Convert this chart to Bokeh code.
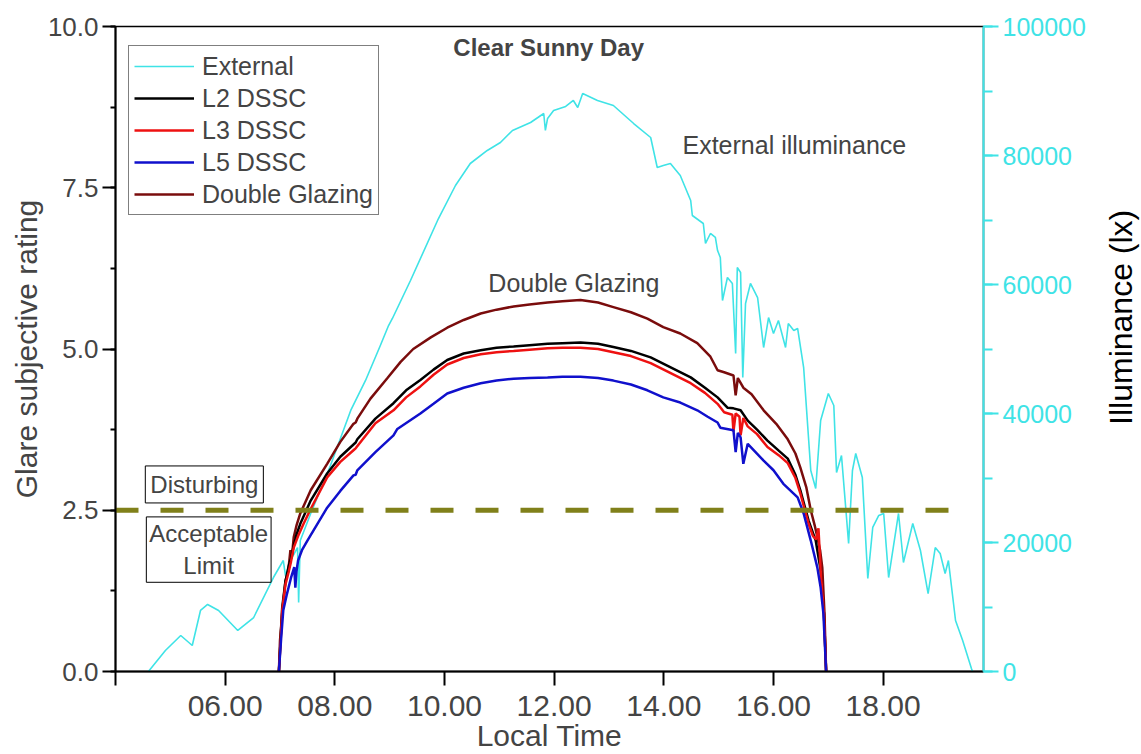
import math
from bokeh.plotting import figure
from bokeh.layouts import row
from bokeh.models import (Range1d, LinearAxis, FixedTicker, Label, Legend, LegendItem,
                          SingleIntervalTicker, PrintfTickFormatter, BasicTickFormatter)
from bokeh.embed import file_html
from bokeh.resources import INLINE

# ---------------- data ----------------
x_ticks = [4, 6, 8, 10, 12, 14, 16, 18]
x_tick_labels = ["", "06.00", "08.00", "10.00", "12.00", "14.00", "16.00", "18.00"]

ext_hours = [4.60, 4.91, 5.19, 5.40, 5.55, 5.68, 5.88, 6.23, 6.52, 6.88,
             7.06, 7.10, 7.19, 7.32, 7.34, 7.37, 7.56, 7.92, 8.29, 8.56,
             8.83, 8.98, 9.05, 9.38, 9.89, 10.20, 10.47, 10.78, 11.02, 11.24,
             11.57, 11.81, 11.84, 11.88, 11.99, 12.21, 12.35, 12.43, 12.52, 12.79,
             13.08, 13.45, 13.76, 13.88, 13.99, 14.12, 14.30, 14.49, 14.52, 14.72,
             14.76, 14.85, 14.94, 14.98, 15.03, 15.07, 15.16, 15.25, 15.31, 15.34,
             15.40, 15.44, 15.49, 15.58, 15.71, 15.82, 15.91, 16.00, 16.09, 16.22,
             16.27, 16.37, 16.44, 16.55, 16.68, 16.77, 16.86, 17.00, 17.10, 17.15,
             17.24, 17.37, 17.44, 17.50, 17.62, 17.72, 17.81, 17.92, 18.01, 18.10,
             18.28, 18.37, 18.54, 18.68, 18.82, 18.95, 19.04, 19.13, 19.19, 19.32,
             19.45, 19.61, 19.63]
ext_lux = [0, 3260, 5580, 4030, 9460, 10390, 9460, 6360, 8370, 14570,
           17210, 14880, 17210, 19220, 10700, 20310, 24500, 31940, 40470, 45120,
           50540, 53640, 54730, 60620, 70230, 75350, 78760, 80780, 82020, 83880,
           85120, 86510, 83880, 85740, 86980, 87600, 88530, 87440, 89610, 88530,
           87750, 84960, 82790, 78140, 78450, 78760, 76900, 73020, 70700, 69460,
           66360, 67910, 67290, 65270, 64190, 57520, 61090, 60160, 49300, 62640,
           61860, 45580, 57050, 60160, 57980, 50230, 54880, 52400, 54420, 50230,
           53950, 52870, 53180, 47130, 31160, 28370, 38910, 43100, 41240, 30850,
           33490, 19850, 31160, 33800, 30080, 14420, 22330, 24190, 24500, 14570,
           24500, 16900, 22950, 18760, 12090, 19220, 18290, 15190, 17210, 7910,
           4810, 470, 0]

l2_hours = [6.98, 7.01, 7.04, 7.10, 7.16, 7.20, 7.25, 7.30, 7.37, 7.56,
            7.86, 8.10, 8.38, 8.41, 8.74, 9.07, 9.30, 9.56, 9.80, 10.05,
            10.35, 10.66, 10.95, 11.26, 11.55, 11.88, 12.15, 12.48, 12.80, 13.08,
            13.40, 13.76, 14.07, 14.49, 14.75, 14.98, 15.16, 15.27, 15.40, 15.53,
            15.70, 15.89, 16.10, 16.26, 16.40, 16.49, 16.64, 16.77, 16.86, 16.92,
            16.96]
l2_glare = [0.0, 0.48, 0.99, 1.40, 1.64, 1.75, 1.95, 2.12, 2.29, 2.65,
            3.07, 3.33, 3.55, 3.60, 3.92, 4.16, 4.36, 4.52, 4.68, 4.83,
            4.93, 4.98, 5.02, 5.04, 5.06, 5.08, 5.09, 5.10, 5.08, 5.03,
            4.97, 4.87, 4.74, 4.56, 4.40, 4.25, 4.09, 4.08, 4.05, 3.89,
            3.75, 3.58, 3.42, 3.30, 3.05, 2.81, 2.34, 2.03, 1.57, 0.90,
            0.0]

l3_hours = [6.98, 7.01, 7.04, 7.10, 7.16, 7.20, 7.25, 7.33, 7.43, 7.56,
            7.86, 8.10, 8.34, 8.38, 8.74, 9.07, 9.30, 9.56, 9.80, 10.05,
            10.35, 10.66, 10.95, 11.26, 11.55, 11.88, 12.15, 12.48, 12.80, 13.08,
            13.40, 13.76, 14.07, 14.49, 14.75, 14.98, 15.10, 15.25, 15.27, 15.31,
            15.38, 15.40, 15.45, 15.53, 15.70, 15.89, 16.10, 16.26, 16.40, 16.49,
            16.64, 16.72, 16.78, 16.82, 16.86, 16.92, 16.96]
l3_glare = [0.0, 0.45, 0.95, 1.35, 1.55, 1.70, 1.92, 2.10, 2.29, 2.52,
            3.01, 3.25, 3.43, 3.46, 3.85, 4.05, 4.25, 4.42, 4.60, 4.76,
            4.86, 4.92, 4.95, 4.97, 4.99, 5.01, 5.02, 5.02, 5.00, 4.95,
            4.89, 4.78, 4.65, 4.47, 4.32, 4.15, 4.02, 3.98, 3.72, 4.00,
            3.95, 3.66, 3.93, 3.80, 3.68, 3.48, 3.35, 3.23, 3.00, 2.76,
            2.29, 2.10, 2.05, 2.22, 1.57, 0.90, 0.0]

l5_hours = [6.98, 7.02, 7.06, 7.12, 7.20, 7.26, 7.28, 7.30, 7.33, 7.40,
            7.50, 7.86, 8.10, 8.34, 8.38, 8.41, 8.74, 9.07, 9.14, 9.56,
            9.80, 10.05, 10.35, 10.66, 10.95, 11.26, 11.55, 11.88, 12.15, 12.48,
            12.80, 13.08, 13.40, 13.70, 13.99, 14.30, 14.61, 14.80, 14.98, 15.03,
            15.27, 15.31, 15.35, 15.40, 15.45, 15.53, 15.82, 16.00, 16.18, 16.44,
            16.55, 16.68, 16.80, 16.86, 16.91, 16.96]
l5_glare = [0.0, 0.50, 0.95, 1.18, 1.45, 1.62, 1.30, 1.55, 1.72, 1.88,
            2.03, 2.54, 2.80, 3.04, 3.05, 3.12, 3.40, 3.66, 3.76, 4.00,
            4.15, 4.31, 4.40, 4.47, 4.51, 4.54, 4.55, 4.56, 4.57, 4.57,
            4.55, 4.51, 4.45, 4.36, 4.25, 4.17, 4.05, 3.95, 3.86, 3.78,
            3.74, 3.40, 3.70, 3.63, 3.22, 3.53, 3.27, 3.12, 2.91, 2.70,
            2.45, 2.03, 1.61, 1.30, 0.90, 0.0]

dg_hours = [6.98, 7.00, 7.04, 7.10, 7.15, 7.19, 7.22, 7.25, 7.30, 7.37,
            7.56, 7.86, 8.10, 8.34, 8.38, 8.41, 8.65, 8.96, 9.20, 9.43,
            9.75, 10.05, 10.35, 10.66, 10.95, 11.26, 11.55, 11.88, 12.15, 12.48,
            12.80, 13.08, 13.40, 13.70, 13.99, 14.30, 14.61, 14.85, 14.98, 15.10,
            15.27, 15.31, 15.35, 15.45, 15.60, 15.82, 16.05, 16.26, 16.40, 16.49,
            16.60, 16.68, 16.75, 16.80, 16.85, 16.89, 16.93, 16.96]
dg_glare = [0.0, 0.48, 0.90, 1.41, 1.55, 1.88, 1.80, 2.08, 2.26, 2.45,
            2.81, 3.22, 3.56, 3.84, 3.86, 3.92, 4.23, 4.55, 4.80, 5.00,
            5.18, 5.33, 5.45, 5.55, 5.61, 5.66, 5.69, 5.72, 5.74, 5.76,
            5.72, 5.65, 5.57, 5.47, 5.34, 5.24, 5.09, 4.88, 4.67, 4.64,
            4.59, 4.28, 4.55, 4.40, 4.30, 4.05, 3.84, 3.60, 3.38, 3.16,
            2.85, 2.50, 2.27, 2.08, 1.88, 1.61, 0.90, 0.0]

limit_hours = [4.0, 19.48]
limit_glare = [2.5, 2.5]

# ---------------- styling ----------------
FONT = "Liberation Sans"
CYAN = "#3fe3e6"
BLACK = "#000000"
RED = "#ee1111"
BLUE = "#1010cc"
DARKRED = "#7a0c0c"
OLIVE = "#80801a"

TITLE_STRIP = 38  # narrow strip at the right that carries the right-hand axis title

p = figure(width=1141 - TITLE_STRIP, height=754, output_backend="svg", toolbar_location=None,
           x_range=Range1d(4, 19.83), y_range=Range1d(0, 10),
           min_border_left=115, min_border_right=158 - TITLE_STRIP, min_border_top=26,
           min_border_bottom=83)
p.xgrid.visible = False
p.ygrid.visible = False
p.outline_line_color = "black"
p.outline_line_width = 1.5
p.background_fill_color = "white"
p.border_fill_color = "white"
p.extra_y_ranges = {"lux": Range1d(0, 100000)}

# bottom axis
xa = p.xaxis[0]
xa.ticker = FixedTicker(ticks=x_ticks)
xa.major_label_overrides = {float(t): lab for t, lab in zip(x_ticks, x_tick_labels)}
xa.axis_label = "Local Time"
xa.axis_label_text_font = FONT
xa.axis_label_text_font_size = "30px"
xa.axis_label_text_font_style = "normal"
xa.axis_label_standoff = 0
xa.major_label_text_font = FONT
xa.major_label_text_font_size = "30px"
xa.major_label_standoff = 10
xa.major_tick_out = 14
xa.major_tick_in = 0
xa.minor_tick_out = 0
xa.minor_tick_in = 0
xa.axis_line_width = 2
xa.major_tick_line_width = 2

# left axis
ya = p.yaxis[0]
ya.ticker = SingleIntervalTicker(interval=2.5, num_minor_ticks=2)
ya.formatter = PrintfTickFormatter(format="%.1f")
ya.axis_label = "Glare subjective rating"
ya.axis_label_text_font = FONT
ya.axis_label_text_font_size = "30px"
ya.axis_label_text_font_style = "normal"
ya.axis_label_standoff = 2
ya.major_label_text_font = FONT
ya.major_label_text_font_size = "26px"
ya.major_label_standoff = 4
ya.major_tick_out = 13
ya.major_tick_in = 0
ya.minor_tick_out = 5
ya.minor_tick_in = 0
ya.axis_line_width = 2
ya.major_tick_line_width = 2
ya.minor_tick_line_width = 2

# right axis (illuminance)
ra = LinearAxis(y_range_name="lux",
                ticker=SingleIntervalTicker(interval=20000, num_minor_ticks=2),
                formatter=BasicTickFormatter(use_scientific=False))
ra.major_label_text_font = FONT
ra.major_label_text_font_size = "25px"
ra.major_label_text_color = CYAN
ra.major_label_standoff = 4
ra.major_tick_out = 15
ra.major_tick_in = 0
ra.minor_tick_out = 9
ra.minor_tick_in = 0
ra.axis_line_color = CYAN
ra.major_tick_line_color = CYAN
ra.minor_tick_line_color = CYAN
ra.axis_line_width = 2
ra.major_tick_line_width = 2
ra.minor_tick_line_width = 2
p.add_layout(ra, "right")

# lines
r_ext = p.line(ext_hours, ext_lux, y_range_name="lux", line_color=CYAN, line_width=1.6)
r_dg = p.line(dg_hours, dg_glare, line_color=DARKRED, line_width=2.5)
r_l2 = p.line(l2_hours, l2_glare, line_color=BLACK, line_width=2.5)
r_l3 = p.line(l3_hours, l3_glare, line_color=RED, line_width=2.5)
r_l5 = p.line(l5_hours, l5_glare, line_color=BLUE, line_width=2.5)
p.line(limit_hours, limit_glare, line_color=OLIVE, line_width=5, line_dash="23 22")

legend = Legend(items=[LegendItem(label="External", renderers=[r_ext]),
                       LegendItem(label="L2 DSSC", renderers=[r_l2]),
                       LegendItem(label="L3 DSSC", renderers=[r_l3]),
                       LegendItem(label="L5 DSSC", renderers=[r_l5]),
                       LegendItem(label="Double Glazing", renderers=[r_dg])],
                location=(13, 456), margin=0, padding=5, spacing=2,
                glyph_width=60, glyph_height=30, label_height=30, label_standoff=8,
                label_text_font=FONT, label_text_font_size="25px",
                border_line_color="black", border_line_width=1,
                background_fill_alpha=1.0)
p.add_layout(legend)

# annotations
p.add_layout(Label(x=11.9, y=9.67, text="Clear Sunny Day", text_align="center",
                   text_baseline="middle", text_font=FONT, text_font_size="24px",
                   text_font_style="bold"))
p.add_layout(Label(x=14.34, y=8.16, text="External illuminance", text_align="left",
                   text_baseline="middle", text_font=FONT, text_font_size="25px"))
p.add_layout(Label(x=10.80, y=6.03, text="Double Glazing", text_align="left",
                   text_baseline="middle", text_font=FONT, text_font_size="25px"))
p.add_layout(Label(x=5.62, y=2.90, text="Disturbing", text_align="center",
                   text_baseline="middle", text_font=FONT, text_font_size="24px",
                   border_line_color="black", border_line_width=1,
                   background_fill_color="white", padding=5))
p.add_layout(Label(x=5.70, y=1.89, text="Acceptable\nLimit", text_align="center",
                   text_baseline="middle", text_font=FONT, text_font_size="24px",
                   border_line_color="black", border_line_width=1,
                   background_fill_color="white", padding=3))

# narrow strip holding the right-hand title "Illuminance (lx)", reading bottom to top
strip = figure(width=TITLE_STRIP, height=754, output_backend="svg", toolbar_location=None,
               x_range=Range1d(0, 1), y_range=Range1d(0, 754),
               min_border=0, min_border_left=0, min_border_right=0,
               min_border_top=0, min_border_bottom=0)
strip.xaxis.visible = False
strip.yaxis.visible = False
strip.xgrid.visible = False
strip.ygrid.visible = False
strip.outline_line_color = None
strip.background_fill_color = "white"
strip.border_fill_color = "white"
strip.add_layout(Label(x=0.45, y=754 - 340, text="Illuminance (lx)", angle=math.pi / 2,
                       text_align="center", text_baseline="middle", text_font=FONT,
                       text_font_size="32px", text_color="black"))

layout = row(p, strip, spacing=0)
open("out.html", "w").write(file_html(layout, INLINE))
